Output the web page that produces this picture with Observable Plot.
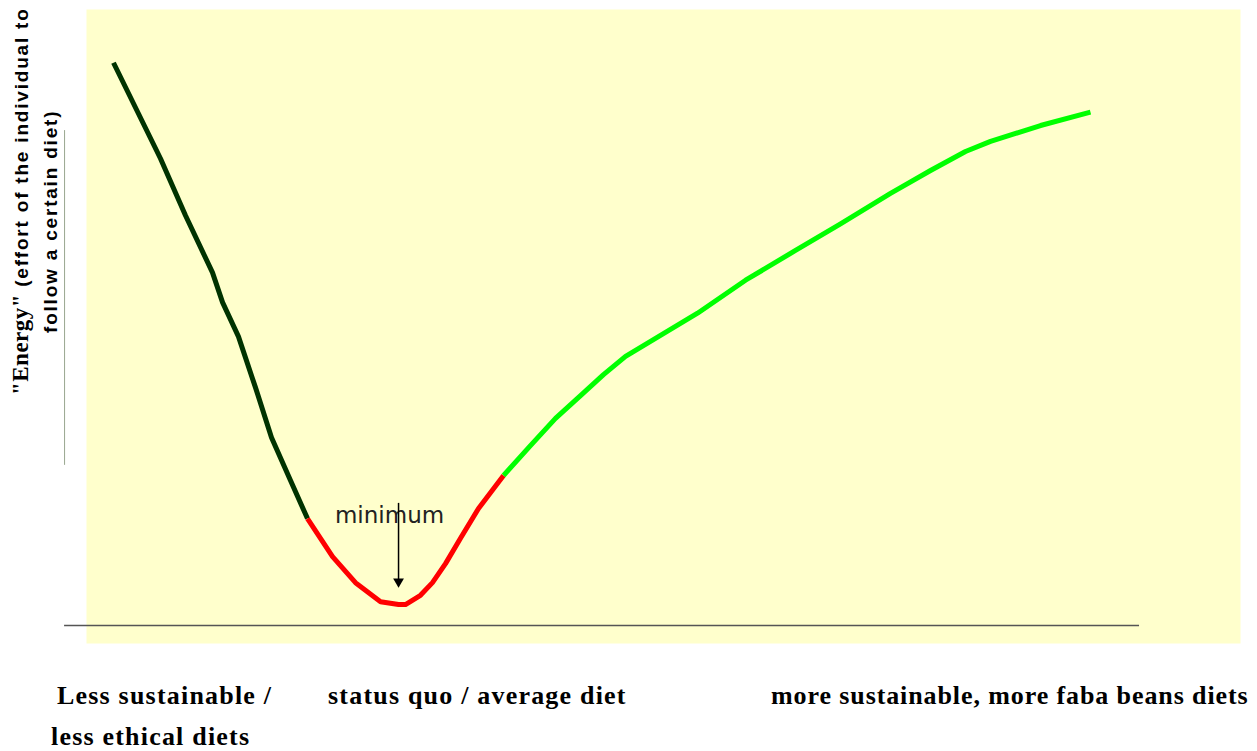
<!DOCTYPE html>
<html>
<head>
<meta charset="utf-8">
<script src="https://cdn.jsdelivr.net/npm/d3@7"></script>
<script src="https://cdn.jsdelivr.net/npm/@observablehq/plot@0.6"></script>
<style>
  html, body { margin: 0; padding: 0; background: #ffffff; }
  #wrap { position: relative; width: 1257px; height: 751px; overflow: hidden; }
  #chart { position: absolute; left: 0; top: 0; }
  .xlab { position: absolute; font-family: "Liberation Serif", serif; font-weight: bold; font-size: 26px; line-height: 1; letter-spacing: 1.2px; white-space: nowrap; color: #000; }
  .ylab { position: absolute; transform-origin: 0 0; transform: rotate(-90deg); white-space: nowrap; line-height: 1; color: #000;
          font-family: "Liberation Sans", Arial, sans-serif; font-weight: bold; font-size: 19px; letter-spacing: 1.8px; }
  .ylab .energy { font-family: "Liberation Serif", serif; font-size: 23px; letter-spacing: 0.5px; }
</style>
</head>
<body>
<div id="wrap">
  <div id="chart"></div>
  <div class="ylab" id="y1" style="left:9px; top:395px;"><span class="energy">"Energy"</span> (effort of the individual to</div>
  <div class="ylab" id="y2" style="left:41px; top:333px;">follow a certain diet)</div>
  <div class="xlab" style="left:57px; top:683px;">Less sustainable /</div>
  <div class="xlab" style="left:51px; top:724px;">less ethical diets</div>
  <div class="xlab" style="left:328px; top:683px;">status quo / average diet</div>
  <div class="xlab" style="left:771px; top:683px; letter-spacing:0.9px;">more sustainable, more faba beans diets</div>
</div>
<script>
// Curve (x: diet position 0–100, y: "energy" 0–100)
const leftX  = [2.34, 6.41, 8.58, 10.92, 11.79, 13.17, 14.64, 16.03, 17.68, 19.15];
const leftY  = [91.6, 76.5, 67.5, 58.5, 53.8, 48.4, 40.4, 32.5, 25.7, 19.7];

const midX   = [19.15, 21.32, 23.31, 25.48, 27.04, 27.64, 28.94, 29.98, 31.11, 32.41, 33.97, 36.14];
const midY   = [19.7, 13.7, 9.6, 6.6, 6.15, 6.15, 7.6, 9.6, 12.6, 16.6, 21.3, 26.5];

const rightX = [36.14, 38.47, 40.64, 42.81, 44.80, 46.71, 49.74, 52.95, 57.11, 61.44, 65.34, 69.67, 73.14, 76.17, 78.34, 82.67, 87.00];
const rightY = [26.5, 31.2, 35.5, 39.1, 42.4, 45.3, 48.6, 52.1, 57.3, 62.0, 66.2, 71.0, 74.6, 77.6, 79.2, 81.7, 83.8];

// Reference lines
const baselineY = [2.84];
const baselineX = [-1.9, 91.25];
const leftRuleX = [-1.9];
const leftRuleY = [28.1, 80.9];

// Annotation
const minimumLabel = ["minimum"];
const minimumArrow = [{x: 27.04, yFrom: 22.1, yTo: 9.6}];
const minimumTip = [{x: 27.04, y: 9.3}];
const minimumText = {x: 26.26, y: 20.2};

const toPts = (xs, ys) => xs.map((x, i) => ({x, y: ys[i]}));

const plot = Plot.plot({
  width: 1257,
  height: 660,
  marginTop: 9,
  marginLeft: 86,
  marginRight: 17,
  marginBottom: 17,
  x: {domain: [0, 100], axis: null},
  y: {domain: [0, 100], axis: null},
  style: {background: "transparent", overflow: "visible"},
  marks: [
    Plot.frame({fill: "#ffffcc", stroke: "none"}),
    Plot.ruleY(baselineY, {x1: baselineX[0], x2: baselineX[1], stroke: "#555555", strokeWidth: 1.3}),
    Plot.ruleX(leftRuleX, {y1: leftRuleY[0], y2: leftRuleY[1], stroke: "#98a68e", strokeWidth: 1}),
    Plot.line(toPts(leftX, leftY), {x: "x", y: "y", stroke: "#003300", strokeWidth: 5, strokeLinejoin: "round", strokeLinecap: "butt"}),
    Plot.line(toPts(midX, midY), {x: "x", y: "y", stroke: "#ff0000", strokeWidth: 5, strokeLinejoin: "round", strokeLinecap: "butt"}),
    Plot.line(toPts(rightX, rightY), {x: "x", y: "y", stroke: "#00ff00", strokeWidth: 5, strokeLinejoin: "round", strokeLinecap: "butt"}),
    Plot.text(minimumLabel, {x: () => minimumText.x, y: () => minimumText.y, text: d => d, fontSize: 23, fontFamily: "DejaVu Sans", fill: "#222222"}),
    Plot.ruleX(minimumArrow, {x: "x", y1: "yFrom", y2: "yTo", stroke: "#000000", strokeWidth: 1.5}),
    Plot.dot(minimumTip, {x: "x", y: "y", symbol: "triangle", r: 4, rotate: 180, fill: "#000000", stroke: "none", dy: -3})
  ]
});
document.getElementById("chart").appendChild(plot);
</script>
</body>
</html>
